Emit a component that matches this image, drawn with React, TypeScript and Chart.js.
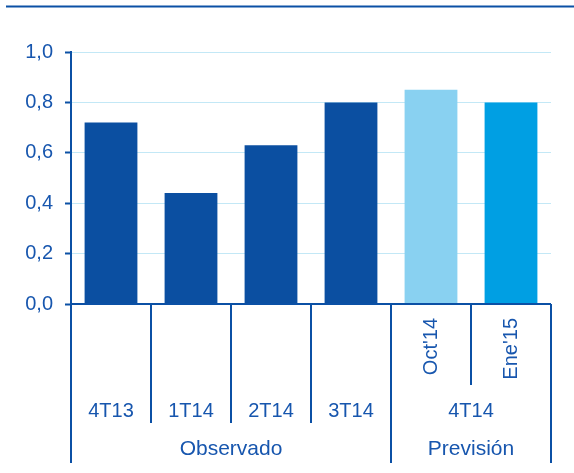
import { useEffect, useRef } from "react";
import { Chart, registerables } from "chart.js";

Chart.register(...registerables);

// Bars: four observed quarters, then two forecasts for 4T14
const categories = ["4T13", "1T14", "2T14", "3T14", "Oct'14", "Ene'15"];
const values = [0.72, 0.44, 0.63, 0.8, 0.85, 0.8];
const barColors = ["#0B4FA1", "#0B4FA1", "#0B4FA1", "#0B4FA1", "#89D1F1", "#009FE3"];

// Rotated sub-labels (only the forecast bars carry one)
const rotatedLabels = ["", "", "", "", "Oct'14", "Ene'15"];

// Quarter row and group row of the category axis
const quarterLabels = ["4T13", "1T14", "2T14", "3T14", "4T14"];
const quarterSpans = [1, 1, 1, 1, 2];
const groupLabels = ["Observado", "Previsión"];
const groupSpans = [4, 2];

const yMin = 0;
const yMax = 1;
const yStep = 0.2;

const LINE = "#0B50A5";
const TEXT = "#1756AE";
const GRID = "#C3E8F6";
const FONT = '"Liberation Sans", Arial, sans-serif';

const axisTable = {
  id: "axisTable",
  beforeDraw(chart: any) {
    const { ctx, width, height } = chart;
    ctx.save();
    ctx.fillStyle = "#ffffff";
    ctx.fillRect(0, 0, width, height);
    // top rule
    ctx.strokeStyle = LINE;
    ctx.lineWidth = 2;
    ctx.beginPath();
    ctx.moveTo(6, 6.5);
    ctx.lineTo(width, 6.5);
    ctx.stroke();
    ctx.restore();
  },
  afterDatasetsDraw(chart: any) {
    const { ctx } = chart;
    const x = chart.scales.x;
    const y = chart.scales.y;
    const base = y.getPixelForValue(0);
    const edge = (b: number) => x.getPixelForValue(b - 0.5);
    const n = categories.length;

    ctx.save();
    ctx.strokeStyle = LINE;
    ctx.lineWidth = 2;

    // baseline
    ctx.beginPath();
    ctx.moveTo(edge(0), base);
    ctx.lineTo(edge(n), base);
    ctx.stroke();

    // group boundaries (full height)
    const groupEdges = [0];
    groupSpans.forEach((s) => groupEdges.push(groupEdges[groupEdges.length - 1] + s));
    // quarter boundaries
    const quarterEdges = [0];
    quarterSpans.forEach((s) => quarterEdges.push(quarterEdges[quarterEdges.length - 1] + s));

    const vline = (px: number, y2: number) => {
      ctx.beginPath();
      ctx.moveTo(px, base);
      ctx.lineTo(px, y2);
      ctx.stroke();
    };

    for (let b = 0; b <= n; b++) {
      const px = edge(b);
      if (groupEdges.includes(b)) vline(px, base + 159);
      else if (quarterEdges.includes(b)) vline(px, base + 119);
      else vline(px, base + 81);
    }

    ctx.fillStyle = TEXT;
    ctx.font = `20px ${FONT}`;

    // rotated forecast labels
    rotatedLabels.forEach((lab, i) => {
      if (!lab) return;
      ctx.save();
      ctx.translate(x.getPixelForValue(i), base + 14);
      ctx.rotate(-Math.PI / 2);
      ctx.textAlign = "right";
      ctx.textBaseline = "middle";
      ctx.fillText(lab, 0, 0);
      ctx.restore();
    });

    ctx.textAlign = "center";
    ctx.textBaseline = "middle";
    quarterLabels.forEach((lab, i) => {
      const cx = (edge(quarterEdges[i]) + edge(quarterEdges[i + 1])) / 2;
      ctx.fillText(lab, cx, base + 107);
    });
    ctx.font = `21px ${FONT}`;
    groupLabels.forEach((lab, i) => {
      const cx = (edge(groupEdges[i]) + edge(groupEdges[i + 1])) / 2;
      ctx.fillText(lab, cx, base + 145);
    });
    ctx.restore();
  },
};

export default function App() {
  const ref = useRef<HTMLCanvasElement | null>(null);

  useEffect(() => {
    if (!ref.current) return;
    const chart = new Chart(ref.current, {
      type: "bar",
      data: {
        labels: categories,
        datasets: [
          {
            data: values,
            backgroundColor: barColors,
            barPercentage: 0.66,
            categoryPercentage: 1,
          },
        ],
      },
      options: {
        responsive: false,
        animation: false,
        events: [],
        layout: { padding: { top: 52, right: 23, bottom: 169, left: 0 } },
        plugins: { legend: { display: false }, tooltip: { enabled: false } },
        scales: {
          x: { display: false, offset: true },
          y: {
            min: yMin,
            max: yMax,
            afterFit: (s: any) => {
              s.width = 71;
            },
            ticks: {
              stepSize: yStep,
              padding: 12,
              color: TEXT,
              font: { family: FONT, size: 20 },
              callback: (v: any) => Number(v).toFixed(1).replace(".", ","),
            },
            grid: {
              color: GRID,
              lineWidth: 1,
              tickLength: 6,
              tickColor: LINE,
              tickWidth: 2,
            },
            border: { color: LINE, width: 2 },
          },
        },
      },
      plugins: [axisTable],
    });
    return () => chart.destroy();
  }, []);

  return (
    <div style={{ position: "fixed", left: 0, top: 0, width: 574, height: 473, background: "#fff" }}>
      <canvas ref={ref} width={574} height={473} />
    </div>
  );
}
